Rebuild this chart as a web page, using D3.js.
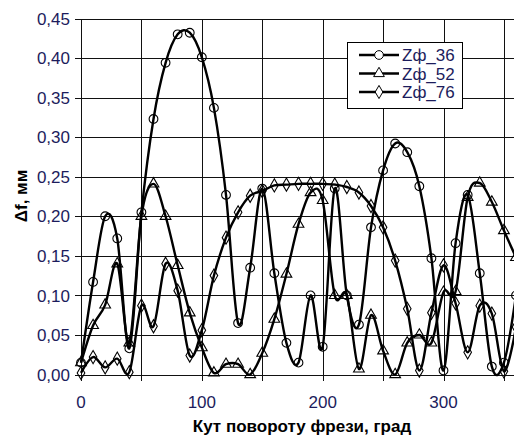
<!DOCTYPE html>
<html>
<head>
<meta charset="utf-8">
<script src="https://cdn.jsdelivr.net/npm/d3@7"></script>
<style>
  body { margin: 0; background: #fff; }
  svg { display: block; }
</style>
</head>
<body>
<svg></svg>
<script>
var angles = [0, 10, 20, 30, 40, 50, 60, 70, 80, 90, 100, 110, 120, 130, 140, 150, 160, 170, 180,
    190, 200, 210, 220, 230, 240, 250, 260, 270, 280, 290, 300, 310, 320, 330, 340, 350, 360]
var z36 = [0.015, 0.117, 0.200, 0.172, 0.033, 0.205, 0.323, 0.394, 0.430, 0.432, 0.401, 0.337, 0.227,
    0.065, 0.135, 0.235, 0.128, 0.040, 0.015, 0.100, 0.035, 0.235, 0.100, 0.063, 0.186, 0.258, 0.292,
    0.281, 0.238, 0.147, 0.005, 0.166, 0.227, 0.128, 0.010, 0.015, 0.100]
var z52 = [0.015, 0.062, 0.088, 0.140, 0.040, 0.200, 0.241, 0.200, 0.138, 0.078, 0.034, 0.002, 0.013,
    0.013, 0.000, 0.027, 0.070, 0.127, 0.190, 0.230, 0.220, 0.100, 0.100, 0.007, 0.075, 0.030, 0.000,
    0.040, 0.050, 0.040, 0.104, 0.105, 0.224, 0.242, 0.218, 0.182, 0.148]
var z76 = [0.002, 0.022, 0.009, 0.020, 0.003, 0.087, 0.061, 0.140, 0.106, 0.024, 0.056, 0.125, 0.173,
    0.205, 0.226, 0.232, 0.239, 0.240, 0.241, 0.241, 0.241, 0.240, 0.237, 0.230, 0.213, 0.186, 0.144,
    0.083, 0.005, 0.078, 0.138, 0.090, 0.028, 0.087, 0.077, 0.004, 0.060]
var seriesNames = ["Zф_36", "Zф_52", "Zф_76"]
var xTicks = [0, 50, 100, 150, 200, 250, 300, 350]
var xLabels = [0, 100, 200, 300]
var yTicks = [0, 0.05, 0.10, 0.15, 0.20, 0.25, 0.30, 0.35, 0.40, 0.45]

var width = 514
var height = 437
var textColor = "#1c1c5c"
var font = "'Liberation Sans', Arial, sans-serif"

var series = [
    {name: seriesNames[0], values: z36, marker: "circle"},
    {name: seriesNames[1], values: z52, marker: "triangle"},
    {name: seriesNames[2], values: z76, marker: "diamond"}
]

var x = d3.scaleLinear().domain([0, 360]).range([81, 516])
var y = d3.scaleLinear().domain([0, 0.45]).range([374.5, 18.5])

var svg = d3.select("svg")
    .attr("width", width)
    .attr("height", height)
    .style("font-family", font)

// grid
svg.append("g")
    .attr("shape-rendering", "crispEdges")
    .selectAll("line")
    .data(yTicks)
    .join("line")
    .attr("x1", x(0) - 6)
    .attr("x2", width)
    .attr("y1", d => Math.round(y(d)) + 0.5)
    .attr("y2", d => Math.round(y(d)) + 0.5)
    .attr("stroke", "#111")
    .attr("stroke-width", 1.3)

svg.append("g")
    .attr("shape-rendering", "crispEdges")
    .selectAll("line")
    .data(xTicks)
    .join("line")
    .attr("x1", d => Math.round(x(d)) + 0.5)
    .attr("x2", d => Math.round(x(d)) + 0.5)
    .attr("y1", y(0.45))
    .attr("y2", y(0) + 6)
    .attr("stroke", "#111")
    .attr("stroke-width", 1.3)

svg.append("g")
    .attr("font-size", 17)
    .attr("fill", textColor)
    .attr("text-anchor", "end")
    .selectAll("text")
    .data(yTicks)
    .join("text")
    .attr("x", 70)
    .attr("y", d => y(d))
    .attr("dy", "0.36em")
    .text(d => d3.format(".2f")(d).replace(".", ","))

svg.append("g")
    .attr("font-size", 17)
    .attr("fill", textColor)
    .attr("text-anchor", "middle")
    .selectAll("text")
    .data(xLabels)
    .join("text")
    .attr("x", d => x(d))
    .attr("y", 408)
    .text(d => d)

svg.append("text")
    .attr("x", 302)
    .attr("y", 432)
    .attr("text-anchor", "middle")
    .attr("font-size", 17)
    .attr("font-weight", "bold")
    .text("Кут повороту фрези, град")

svg.append("text")
    .attr("transform", "translate(27,196) rotate(-90)")
    .attr("text-anchor", "middle")
    .attr("font-size", 17)
    .attr("font-weight", "bold")
    .text("Δf, мм")

var symbols = {
    circle: d3.symbol().type(d3.symbolCircle).size(60),
    triangle: d3.symbol().type(d3.symbolTriangle).size(50),
    diamond: d3.symbol().type(d3.symbolDiamond).size(50)
}

var line = d3.line()
    .x((d, i) => x(angles[i]))
    .y(d => y(d))
    .curve(d3.curveCardinal.tension(0))

var plot = svg.append("g")

series.forEach(s => {
    plot.append("path")
        .attr("d", line(s.values))
        .attr("fill", "none")
        .attr("stroke", "#000")
        .attr("stroke-width", 2.4)
})

series.forEach(s => {
    plot.append("g")
        .selectAll("path")
        .data(s.values)
        .join("path")
        .attr("transform", (d, i) => `translate(${x(angles[i])},${y(d)})`)
        .attr("d", symbols[s.marker])
        .attr("fill", "none")
        .attr("stroke", "#000")
        .attr("stroke-width", 1.1)
})

// legend
var legend = svg.append("g").attr("transform", "translate(347,42)")
legend.append("rect")
    .attr("x", 0.5)
    .attr("y", 0.5)
    .attr("width", 115)
    .attr("height", 66)
    .attr("fill", "#fff")
    .attr("stroke", "#000")
    .attr("shape-rendering", "crispEdges")

var item = legend.selectAll("g")
    .data(series)
    .join("g")
    .attr("transform", (d, i) => `translate(0,${13 + i * 18.5})`)

item.append("line")
    .attr("x1", 12)
    .attr("x2", 52)
    .attr("stroke", "#000")
    .attr("stroke-width", 2.4)

item.append("path")
    .attr("transform", "translate(32,0)")
    .attr("d", d => symbols[d.marker]())
    .attr("fill", "#fff")
    .attr("stroke", "#000")

item.append("text")
    .attr("x", 55)
    .attr("dy", "0.36em")
    .attr("font-size", 17)
    .attr("fill", textColor)
    .text(d => d.name)
</script>
</body>
</html>
